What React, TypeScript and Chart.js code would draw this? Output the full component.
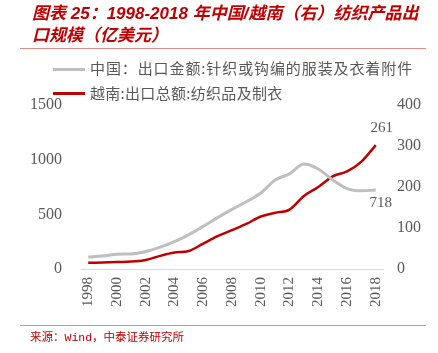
import React, { useEffect, useRef } from "react";
import { Chart, registerables } from "chart.js";

Chart.register(...registerables);

const years = [
  "1998", "1999", "2000", "2001", "2002", "2003", "2004", "2005", "2006", "2007", "2008",
  "2009", "2010", "2011", "2012", "2013", "2014", "2015", "2016", "2017", "2018",
];
const chinaKnit = [110, 118, 135, 138, 160, 200, 250, 315, 390, 470, 545, 615, 695, 815, 870, 960, 915, 815, 735, 715, 722];
const vietnamTextile = [15, 16, 17, 18, 22, 32, 40, 44, 62, 80, 95, 110, 128, 137, 145, 178, 200, 226, 238, 262, 302];
const leftTicks = [0, 500, 1000, 1500];
const rightTicks = [0, 100, 200, 300, 400];
const chinaEndLabel = "718";
const vietnamEndLabel = "261";

const titleLine1 = "图表 25：1998-2018 年中国/越南（右）纺织产品出";
const titleLine2 = "口规模（亿美元）";
const legendChina = "中国：出口金额:针织或钩编的服装及衣着附件";
const legendVietnam = "越南:出口总额:纺织品及制衣";
const sourceText = "来源：Wind，中泰证券研究所";

const RED = "#C00000";
const GRAY = "#BFBFBF";
const TICK = "#595959";

export default function App() {
  const ref = useRef<HTMLCanvasElement | null>(null);

  useEffect(() => {
    if (!ref.current) return;
    const endLabels = {
      id: "endLabels",
      afterDatasetsDraw(chart: any) {
        const ctx = chart.ctx;
        ctx.save();
        ctx.font = "15px 'Liberation Serif', serif";
        ctx.fillStyle = TICK;
        ctx.textAlign = "center";
        ctx.textBaseline = "middle";
        const g = chart.getDatasetMeta(0).data;
        const r = chart.getDatasetMeta(1).data;
        const gp = g[g.length - 1];
        const rp = r[r.length - 1];
        ctx.fillText(chinaEndLabel, gp.x + 5, gp.y + 13);
        ctx.fillText(vietnamEndLabel, rp.x + 6, rp.y - 17);
        ctx.restore();
      },
    };
    const chart = new Chart(ref.current, {
      type: "line",
      data: {
        labels: years,
        datasets: [
          {
            label: legendChina,
            data: chinaKnit,
            borderColor: GRAY,
            borderWidth: 3,
            pointRadius: 0,
            cubicInterpolationMode: "monotone",
            yAxisID: "y",
          },
          {
            label: legendVietnam,
            data: vietnamTextile,
            borderColor: RED,
            borderWidth: 2.5,
            pointRadius: 0,
            cubicInterpolationMode: "monotone",
            yAxisID: "y1",
          },
        ],
      },
      options: {
        animation: false,
        responsive: false,
        layout: { padding: { top: 105, left: 0, right: 0, bottom: 0 } },
        plugins: { legend: { display: false }, tooltip: { enabled: false }, title: { display: false } },
        scales: {
          x: {
            type: "category",
            offset: true,
            grid: { display: false, drawTicks: false },
            border: { display: true, color: "#D9D9D9", width: 1 },
            ticks: {
              autoSkip: false,
              maxRotation: 90,
              minRotation: 90,
              padding: 8,
              color: TICK,
              font: { family: "'Liberation Serif', serif", size: 15 },
              callback: (_v: any, i: number) => (i % 2 === 0 ? years[i] : ""),
            },
            afterFit: (s: any) => {
              s.height = 353 - 269;
            },
          },
          y: {
            position: "left",
            min: 0,
            max: 1500,
            grid: { display: false, drawTicks: false },
            border: { display: false },
            afterBuildTicks: (s: any) => {
              s.ticks = leftTicks.map((v) => ({ value: v }));
            },
            ticks: {
              padding: 19,
              color: TICK,
              font: { family: "'Liberation Serif', serif", size: 16 },
              callback: (v: any) => String(v),
            },
            afterFit: (s: any) => {
              s.width = 81;
            },
          },
          y1: {
            position: "right",
            min: 0,
            max: 400,
            grid: { display: false, drawTicks: false },
            border: { display: false },
            afterBuildTicks: (s: any) => {
              s.ticks = rightTicks.map((v) => ({ value: v }));
            },
            ticks: {
              padding: 14,
              color: TICK,
              font: { family: "'Liberation Serif', serif", size: 16 },
              callback: (v: any) => String(v),
            },
            afterFit: (s: any) => {
              s.width = 438 - 383;
            },
          },
        },
      },
      plugins: [endLabels],
    } as any);
    return () => chart.destroy();
  }, []);

  const sep = (top: number): React.CSSProperties => ({
    position: "absolute",
    left: 20,
    width: 406,
    top,
    height: 1,
    background: "#E58A8A",
  });

  const legendText = (top: number, spacing: number): React.CSSProperties => ({
    position: "absolute",
    left: 90,
    top,
    fontFamily: "'Noto Sans CJK SC', sans-serif",
    fontSize: 15,
    letterSpacing: spacing,
    lineHeight: "20px",
    color: TICK,
    whiteSpace: "nowrap",
  });

  return (
    <div style={{ position: "fixed", left: 0, top: 0, width: 438, height: 353, background: "#fff", overflow: "hidden" }}>
      <canvas ref={ref} width={438} height={353} style={{ position: "absolute", left: 0, top: 0, width: 438, height: 353 }} />
      <div
        style={{
          position: "absolute",
          left: 32,
          top: 3,
          color: RED,
          fontFamily: "'Liberation Sans', 'Noto Sans CJK SC', sans-serif",
          fontWeight: 700,
          fontStyle: "italic",
          fontSize: 17,
          lineHeight: "22px",
          whiteSpace: "nowrap",
        }}
      >
        <div>{titleLine1}</div>
        <div>{titleLine2}</div>
      </div>
      <div style={sep(48)} />
      <div style={{ position: "absolute", left: 53, top: 68, width: 32, height: 3, background: GRAY }} />
      <div style={legendText(58, 0.9)}>{legendChina}</div>
      <div style={{ position: "absolute", left: 53, top: 92, width: 32, height: 3, background: RED }} />
      <div style={legendText(83, 0.3)}>{legendVietnam}</div>
      <div style={sep(325)} />
      <div
        style={{
          position: "absolute",
          left: 30,
          top: 330,
          fontFamily: "'Liberation Mono', 'Noto Sans CJK SC', monospace",
          fontSize: 11.5,
          lineHeight: "16px",
          color: RED,
          whiteSpace: "nowrap",
        }}
      >
        {sourceText}
      </div>
    </div>
  );
}
